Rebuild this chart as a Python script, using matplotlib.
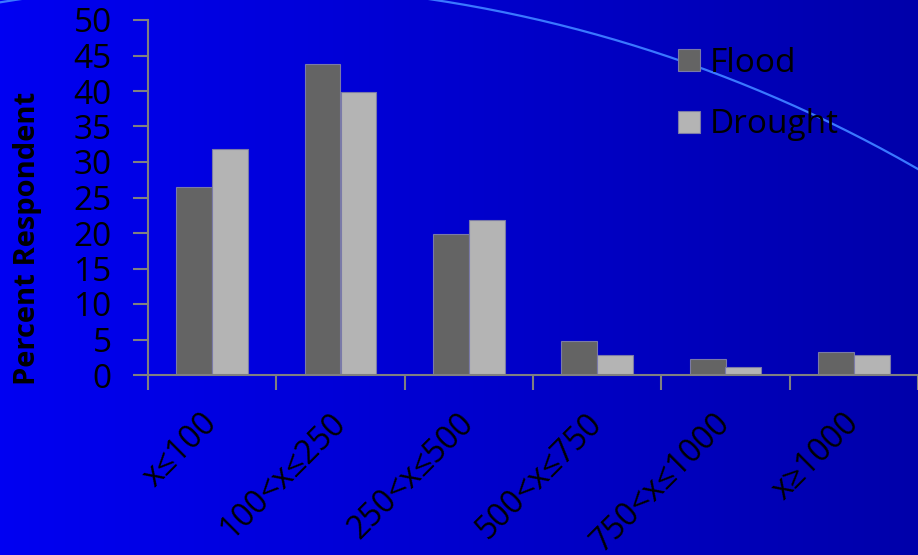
import numpy as np
import matplotlib
matplotlib.use('Agg')
import matplotlib.pyplot as plt

plt.rcParams['font.family'] = ['Open Sans', 'DejaVu Sans']

# Respondent shares by damage range
categories = ['x≤100', '100<x≤250', '250<x≤500', '500<x≤750', '750<x≤1000', 'x≥1000']
flood = [26.5, 43.8, 19.8, 4.8, 2.2, 3.2]
drought = [31.9, 39.8, 21.8, 2.8, 1.1, 2.8]

fig = plt.figure(figsize=(9.18, 5.55), dpi=100)

# blue gradient backdrop
bg = fig.add_axes([0, 0, 1, 1], zorder=0)
grad = np.linspace(0, 1, 256).reshape(1, -1)
cmap = matplotlib.colors.LinearSegmentedColormap.from_list('bg', ['#0000f2', '#0000aa'])
bg.imshow(grad, aspect='auto', cmap=cmap, extent=[0, 918, 555, 0])
# decorative arc
t = np.linspace(-0.3, 0.8, 400)
cx, cy, r = 225, 1374, 1390
bg.plot(cx + r * np.sin(t), cy - r * np.cos(t), color='#3a78ff', lw=1.6)
bg.set_xlim(0, 918)
bg.set_ylim(555, 0)
bg.axis('off')

ax = fig.add_axes([148 / 918, 1 - 375 / 555, 1 - 148 / 918, (375 - 20) / 555], zorder=1)
ax.patch.set_alpha(0)

x = np.arange(len(categories))
w = 0.28
ax.bar(x - w / 2, flood, w, color='#646464', edgecolor='#7a7aa8', linewidth=0.8, label='Flood')
ax.bar(x + w / 2, drought, w, color='#b4b4b4', edgecolor='#7a7aa8', linewidth=0.8, label='Drought')

ax.set_ylim(0, 50)
ax.set_xlim(-0.5, 770 / 129.4 - 0.5)
ax.set_yticks(range(0, 51, 5))
ax.tick_params(axis='y', labelsize=24, length=11, width=1.5, color='#808080', pad=15)

ax.set_xticks(np.arange(len(categories) + 1) - 0.5)
ax.set_xticklabels([])
ax.set_xticks(x, minor=True)
ax.set_xticklabels(categories, minor=True, rotation=45, ha='right', va='center',
                   rotation_mode='anchor', fontsize=23)
ax.tick_params(axis='x', which='minor', length=0, pad=31)
ax.tick_params(axis='x', which='major', length=11, width=1.5, color='#808080')

for s in ['top', 'right']:
    ax.spines[s].set_visible(False)
for s in ['left', 'bottom']:
    ax.spines[s].set_color('#808080')
    ax.spines[s].set_linewidth(1.5)

ax.set_ylabel('Percent Respondent', fontsize=21, fontweight='bold')
ax.yaxis.set_label_coords(-0.138, 0.386)

fig.legend(loc='upper left', bbox_to_anchor=(648 / 918, 1 - 17 / 555), frameon=False,
           fontsize=24, handlelength=0.65, handleheight=0.65, labelspacing=0.85,
           handletextpad=0.3)

fig.savefig('out.png', dpi=100)
